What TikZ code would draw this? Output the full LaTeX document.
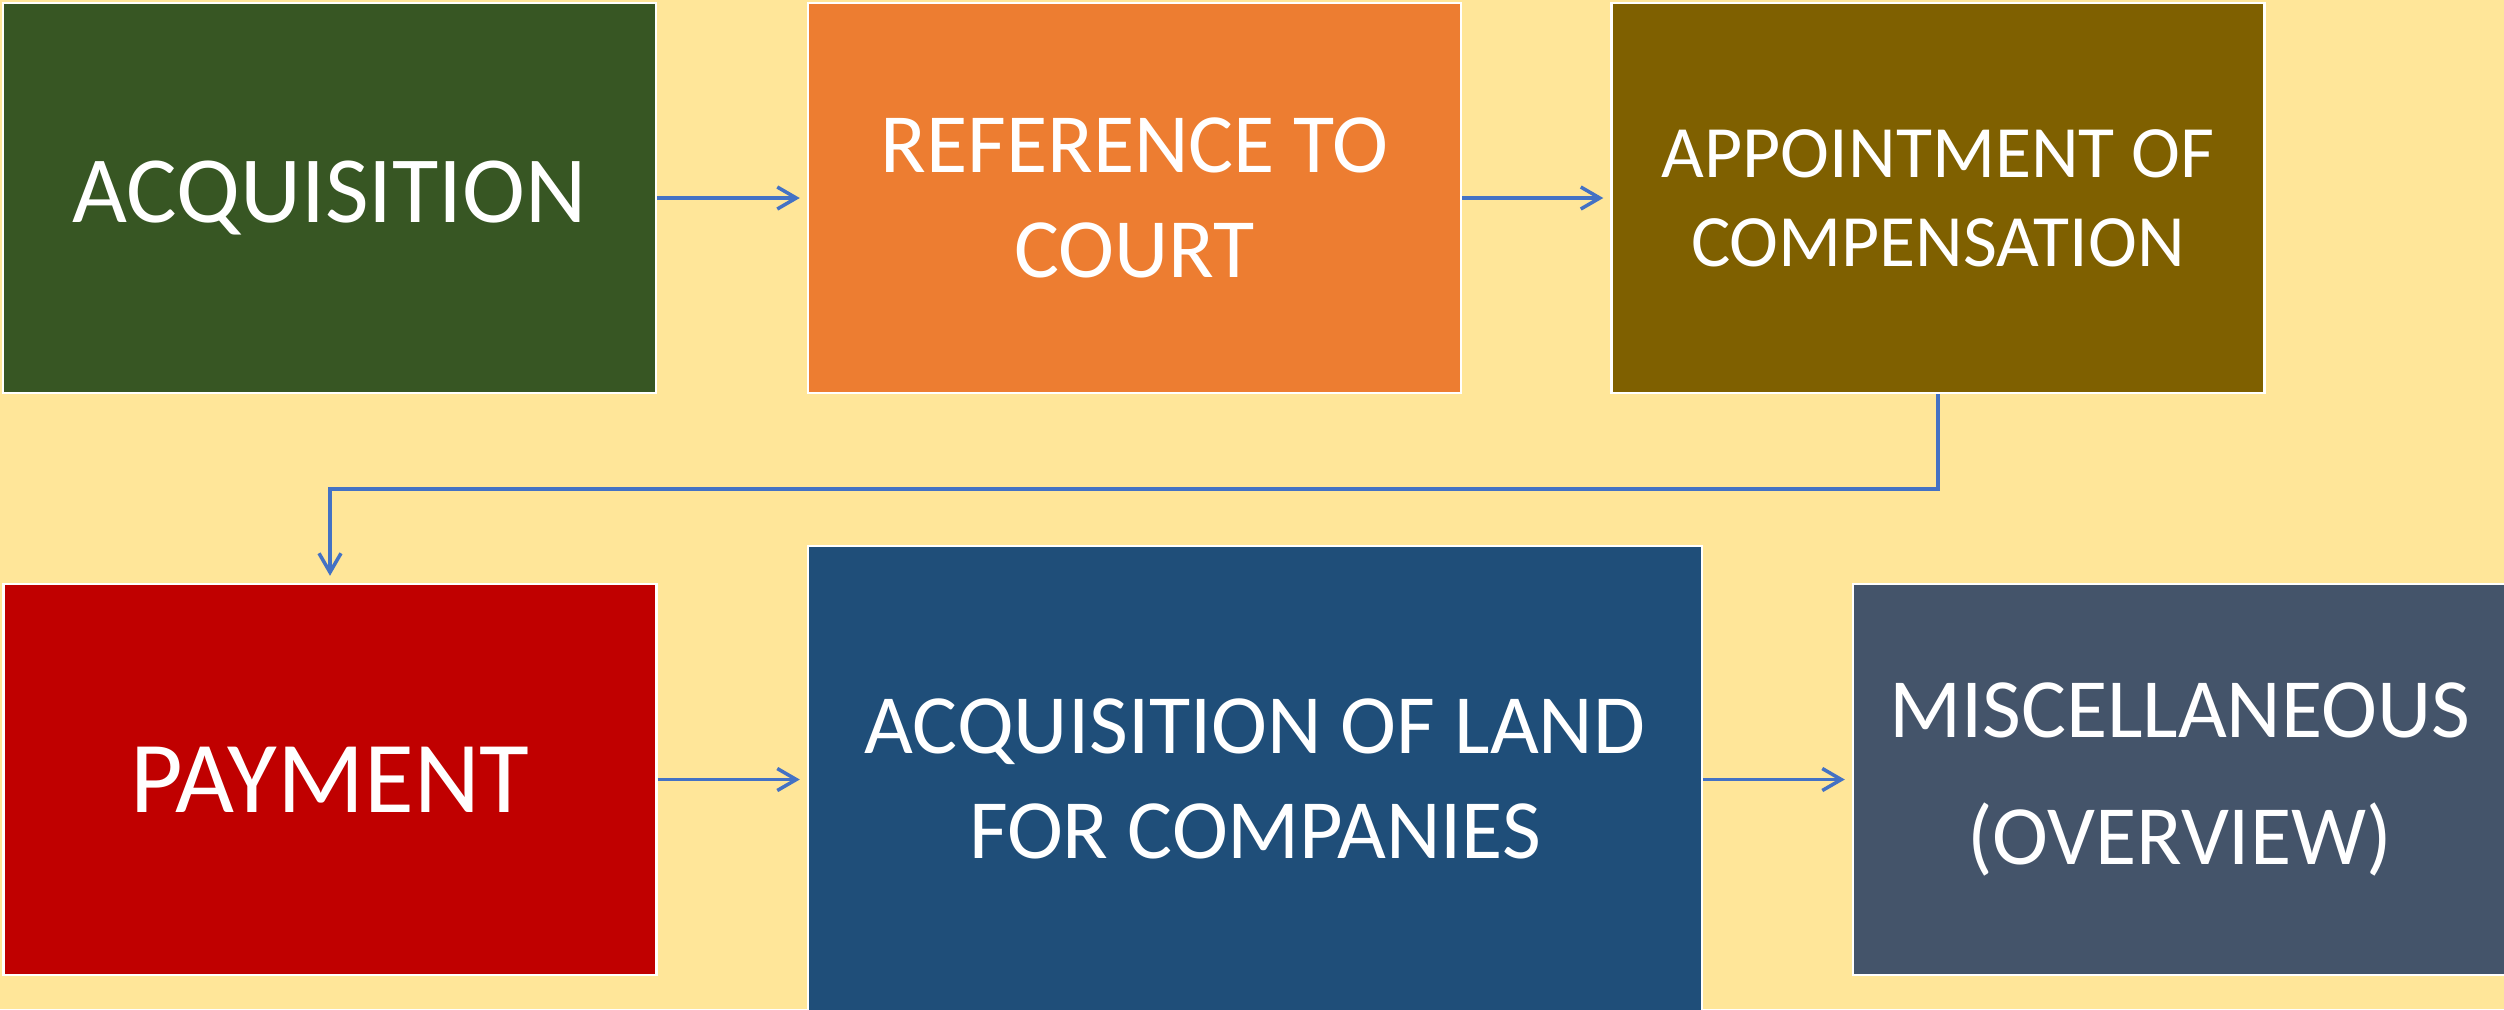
\documentclass[tikz,border=0pt]{standalone}
\usepackage{fontspec}
\setmainfont{Carlito}
\usetikzlibrary{arrows.meta}
\definecolor{bgyellow}{HTML}{FFE699}
\definecolor{acqgreen}{HTML}{375623}
\definecolor{reforange}{HTML}{ED7D31}
\definecolor{apptbrown}{HTML}{7F6000}
\definecolor{payred}{HTML}{C00000}
\definecolor{landblue}{HTML}{1F4E79}
\definecolor{miscslate}{HTML}{44546A}
\definecolor{linkblue}{HTML}{4472C4}

\begin{document}
\begin{tikzpicture}[
  box/.style={draw=white, line width=.7pt, text=white, align=center, inner sep=0pt,
    minimum width=6.53cm, minimum height=3.9cm},
  link/.style={linkblue, line width=1pt, -{Straight Barb[length=1.9mm,width=2.2mm]}, shorten >=.7mm}]
\useasboundingbox (0,0) rectangle (25.04,-10.09);
\fill[bgyellow] (0,0) rectangle (25.04,-10.09);
% top row
\node[box, fill=acqgreen, font=\fontsize{27}{33}\selectfont] (acq) at (3.295,-1.98) {ACQUISITION};
\node[box, fill=reforange, font=\fontsize{24}{30}\selectfont] (ref) at (11.345,-1.98) {REFERENCE TO\\COURT};
\node[box, fill=apptbrown, font=\fontsize{21}{25.3}\selectfont] (appt) at (19.38,-1.98) {APPOINTMENT OF\\COMPENSATION};
% bottom row
\node[box, fill=payred, minimum height=3.91cm, font=\fontsize{29}{35}\selectfont] (pay) at (3.30,-7.795) {PAYMENT};
\node[box, fill=landblue, minimum width=8.94cm, minimum height=4.66cm, font=\fontsize{24}{30}\selectfont] (land) at (12.55,-7.79) {ACQUISITION OF LAND\\FOR COMPANIES};
\node[box, fill=miscslate, minimum height=3.91cm, font=\fontsize{24}{36}\selectfont] (misc) at (21.795,-7.795) {MISCELLANEOUS\\(OVERVIEW)};
% connectors
\draw[link] (acq) -- (ref);
\draw[link] (ref) -- (appt);
\draw[link] (appt.south) -- ++(0,-.95) -| (pay.north);
\draw[link] (pay) -- (pay -| land.west);
\draw[link] (land.east |- misc) -- (misc);
\end{tikzpicture}
\end{document}
